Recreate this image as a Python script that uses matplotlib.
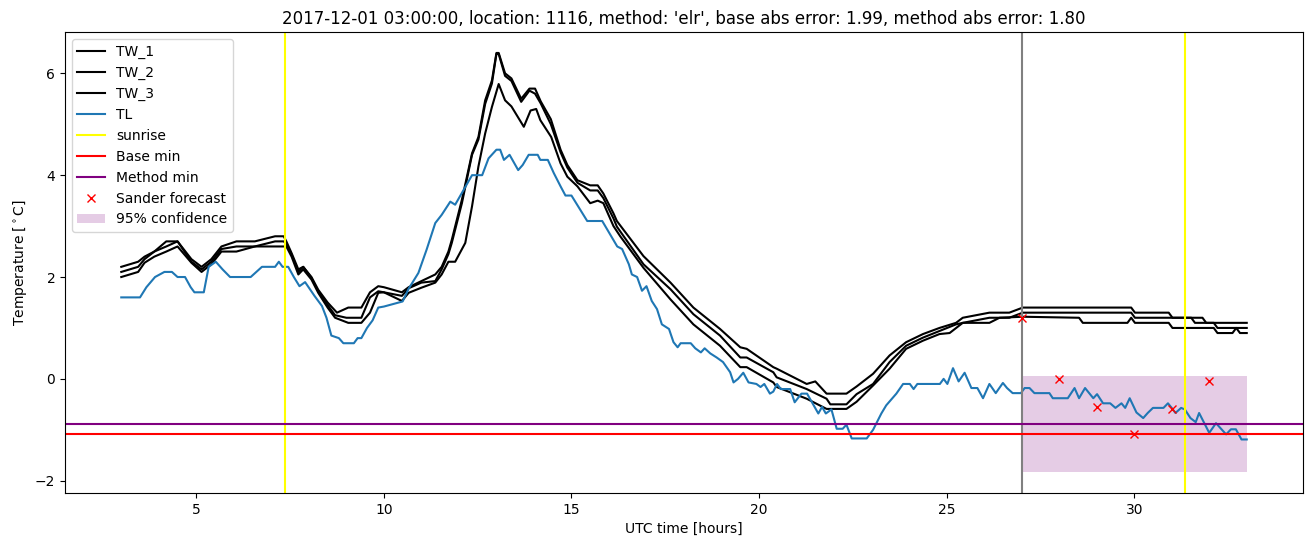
import numpy as np
import matplotlib
matplotlib.use("Agg")
from matplotlib import pyplot as plt

# (hour, temperature)
TW_1 = [(3.0, 2.2), (3.45, 2.3), (3.62, 2.4), (3.88, 2.5), (4.2, 2.7), (4.5, 2.7), (4.87, 2.35), (5.14, 2.2),
        (5.4, 2.35), (5.67, 2.6), (6.07, 2.7), (6.56, 2.7), (7.1, 2.8), (7.33, 2.8), (7.4, 2.7), (7.54, 2.47),
        (7.72, 2.15), (7.85, 2.2), (8.07, 2.0), (8.25, 1.75), (8.5, 1.5), (8.75, 1.3), (9.05, 1.4), (9.4, 1.4),
        (9.63, 1.7), (9.85, 1.82), (10.0, 1.8), (10.48, 1.7), (10.66, 1.8), (11.0, 1.92), (11.37, 2.05),
        (11.54, 2.2), (11.72, 2.5), (11.81, 2.73), (12.08, 3.52), (12.35, 4.43), (12.52, 4.75), (12.7, 5.47),
        (12.88, 5.86), (13.0, 6.4), (13.06, 6.4), (13.23, 6.0), (13.4, 5.9), (13.66, 5.5), (13.88, 5.7),
        (14.03, 5.7), (14.18, 5.45), (14.45, 5.1), (14.71, 4.5), (14.89, 4.2), (15.16, 3.9), (15.5, 3.8),
        (15.7, 3.8), (15.85, 3.64), (16.12, 3.25), (16.21, 3.1), (16.92, 2.41), (17.64, 1.89), (18.25, 1.4),
        (18.96, 0.98), (19.5, 0.62), (19.67, 0.59), (20.38, 0.23), (20.47, 0.2), (21.27, -0.1), (21.5, -0.05),
        (21.8, -0.29), (22.33, -0.29), (22.6, -0.15), (23.04, 0.1), (23.48, 0.46), (23.92, 0.72), (24.37, 0.88),
        (24.81, 1.0), (25.25, 1.1), (25.43, 1.2), (26.14, 1.3), (26.67, 1.3), (27.03, 1.4), (29.92, 1.4),
        (30.02, 1.3), (30.92, 1.3), (31.02, 1.2), (31.82, 1.2), (31.92, 1.1), (33.0, 1.1)]

TW_2 = [(3.0, 2.1), (3.45, 2.2), (3.62, 2.35), (3.88, 2.5), (4.2, 2.6), (4.5, 2.7), (4.87, 2.3), (5.14, 2.15),
        (5.4, 2.3), (5.67, 2.55), (6.07, 2.6), (6.56, 2.6), (7.1, 2.7), (7.33, 2.7), (7.4, 2.65), (7.54, 2.44),
        (7.72, 2.1), (7.85, 2.2), (8.07, 1.98), (8.25, 1.72), (8.5, 1.45), (8.7, 1.25), (9.0, 1.2), (9.4, 1.2),
        (9.63, 1.6), (9.85, 1.72), (10.0, 1.7), (10.48, 1.63), (10.66, 1.78), (11.0, 1.89), (11.37, 1.92),
        (11.54, 2.15), (11.72, 2.45), (11.81, 2.67), (12.08, 3.45), (12.35, 4.4), (12.52, 4.7), (12.7, 5.4),
        (12.88, 5.8), (13.0, 6.38), (13.06, 6.38), (13.23, 5.95), (13.4, 5.85), (13.66, 5.44), (13.88, 5.66),
        (14.03, 5.6), (14.18, 5.41), (14.45, 5.0), (14.71, 4.45), (14.89, 4.15), (15.16, 3.85), (15.5, 3.7),
        (15.7, 3.7), (15.85, 3.55), (16.12, 3.15), (16.21, 2.99), (16.92, 2.25), (17.64, 1.76), (18.25, 1.27),
        (18.96, 0.85), (19.5, 0.42), (19.67, 0.42), (20.38, 0.13), (20.47, 0.03), (21.27, -0.2), (21.8, -0.39),
        (21.9, -0.5), (22.33, -0.5), (22.6, -0.3), (23.04, -0.1), (23.48, 0.33), (23.92, 0.65), (24.37, 0.81),
        (24.81, 0.94), (25.25, 1.07), (25.43, 1.1), (26.14, 1.2), (26.67, 1.2), (27.03, 1.3), (29.92, 1.3),
        (30.02, 1.2), (31.52, 1.2), (31.62, 1.1), (32.12, 1.1), (32.22, 1.0), (33.0, 1.0)]

TW_3 = [(3.0, 2.0), (3.45, 2.1), (3.62, 2.28), (3.88, 2.4), (4.2, 2.5), (4.5, 2.6), (4.87, 2.28), (5.14, 2.1),
        (5.4, 2.25), (5.67, 2.5), (6.07, 2.5), (6.56, 2.6), (7.1, 2.6), (7.33, 2.6), (7.4, 2.6), (7.54, 2.4),
        (7.72, 2.05), (7.85, 2.15), (8.07, 1.95), (8.25, 1.69), (8.5, 1.4), (8.7, 1.2), (9.05, 1.1), (9.4, 1.1),
        (9.63, 1.3), (9.85, 1.69), (10.0, 1.7), (10.48, 1.53), (10.66, 1.69), (11.0, 1.79), (11.37, 1.89),
        (11.54, 2.05), (11.72, 2.3), (11.9, 2.3), (12.17, 2.67), (12.35, 3.39), (12.52, 4.17), (12.7, 4.82),
        (12.88, 5.34), (13.06, 5.79), (13.23, 5.47), (13.4, 5.35), (13.73, 4.95), (13.91, 5.27), (14.06, 5.3),
        (14.17, 5.08), (14.46, 4.75), (14.71, 4.23), (14.89, 3.97), (15.16, 3.78), (15.5, 3.45), (15.7, 3.5),
        (15.85, 3.45), (16.12, 3.0), (16.3, 2.8), (16.92, 2.18), (17.64, 1.56), (18.25, 1.07), (18.96, 0.65),
        (19.5, 0.23), (19.67, 0.23), (20.38, -0.07), (20.47, -0.16), (21.27, -0.39), (21.8, -0.59), (22.33, -0.59),
        (22.6, -0.45), (23.04, -0.13), (23.48, 0.2), (23.92, 0.59), (24.37, 0.75), (24.81, 0.88), (25.08, 0.9),
        (25.43, 1.1), (26.14, 1.1), (26.41, 1.2), (27.03, 1.22), (28.53, 1.2), (28.63, 1.1), (29.82, 1.1),
        (29.92, 1.2), (30.02, 1.1), (30.92, 1.1), (31.02, 1.0), (32.12, 1.0), (32.22, 0.9), (32.62, 0.9),
        (32.72, 1.0), (32.82, 0.9), (33.0, 0.9)]

TL = [(3.0, 1.6), (3.5, 1.6), (3.67, 1.8), (3.9, 2.0), (4.15, 2.1), (4.35, 2.1), (4.5, 2.0), (4.7, 2.0),
      (4.85, 1.8), (4.95, 1.7), (5.2, 1.7), (5.33, 2.2), (5.52, 2.3), (5.7, 2.15), (5.9, 2.0), (6.45, 2.0),
      (6.6, 2.1), (6.75, 2.2), (7.1, 2.2), (7.2, 2.3), (7.3, 2.2), (7.45, 2.2), (7.6, 2.0), (7.75, 1.82),
      (7.9, 1.9), (8.15, 1.63), (8.35, 1.43), (8.47, 1.2), (8.6, 0.85), (8.8, 0.8), (8.92, 0.7), (9.2, 0.7),
      (9.3, 0.8), (9.4, 0.8), (9.55, 1.0), (9.7, 1.15), (9.85, 1.4), (10.0, 1.42), (10.5, 1.52), (10.66, 1.77),
      (10.92, 2.08), (11.14, 2.54), (11.37, 3.06), (11.54, 3.22), (11.77, 3.48), (11.9, 3.42), (12.35, 4.0),
      (12.62, 4.0), (12.79, 4.33), (13.0, 4.5), (13.1, 4.5), (13.2, 4.3), (13.35, 4.4), (13.58, 4.1),
      (13.7, 4.2), (13.86, 4.4), (14.1, 4.4), (14.17, 4.3), (14.37, 4.3), (14.53, 4.04), (14.71, 3.78),
      (14.84, 3.6), (15.0, 3.6), (15.42, 3.1), (15.82, 3.1), (16.22, 2.6), (16.35, 2.55), (16.53, 2.25),
      (16.61, 2.05), (16.75, 2.0), (16.88, 1.73), (17.0, 1.82), (17.14, 1.53), (17.28, 1.37), (17.41, 1.07),
      (17.6, 0.98), (17.72, 0.72), (17.83, 0.62), (17.91, 0.7), (18.18, 0.7), (18.3, 0.6), (18.45, 0.52),
      (18.55, 0.6), (18.7, 0.5), (18.87, 0.42), (19.04, 0.33), (19.23, 0.13), (19.32, -0.07), (19.44, 0.0),
      (19.58, 0.12), (19.72, -0.07), (19.93, -0.1), (20.04, -0.16), (20.14, -0.1), (20.29, -0.29),
      (20.38, -0.25), (20.48, -0.1), (20.58, -0.2), (20.83, -0.2), (20.95, -0.46), (21.13, -0.29),
      (21.28, -0.29), (21.58, -0.68), (21.68, -0.55), (21.78, -0.68), (21.93, -0.6), (22.07, -0.98),
      (22.23, -0.98), (22.33, -0.9), (22.47, -1.17), (22.87, -1.17), (23.04, -1.0), (23.26, -0.68),
      (23.39, -0.52), (23.66, -0.29), (23.84, -0.1), (24.02, -0.1), (24.12, -0.2), (24.22, -0.1),
      (24.82, -0.1), (24.92, 0.0), (25.02, -0.1), (25.17, 0.21), (25.32, -0.05), (25.48, 0.12),
      (25.66, -0.18), (25.82, -0.18), (25.97, -0.38), (26.14, -0.1), (26.31, -0.28), (26.5, -0.08),
      (26.61, -0.18), (26.76, -0.28), (26.98, -0.28), (27.08, -0.18), (27.21, -0.18), (27.34, -0.28),
      (27.74, -0.28), (27.83, -0.38), (28.23, -0.38), (28.41, -0.18), (28.53, -0.38), (28.69, -0.18),
      (28.91, -0.38), (29.01, -0.3), (29.17, -0.48), (29.36, -0.48), (29.5, -0.57), (29.66, -0.48),
      (29.76, -0.57), (29.88, -0.38), (30.06, -0.66), (30.24, -0.77), (30.36, -0.67), (30.5, -0.57),
      (30.78, -0.57), (30.9, -0.48), (31.0, -0.57), (31.1, -0.67), (31.25, -0.57), (31.35, -0.6),
      (31.5, -0.77), (31.64, -0.85), (31.73, -0.67), (32.0, -1.06), (32.18, -0.87), (32.45, -1.09),
      (32.58, -0.99), (32.71, -0.99), (32.86, -1.19), (33.0, -1.19)]

sunrise = [7.36, 31.35]
forecast_start = 27
base_min = -1.08
method_min = -0.89

sander_hours = [27, 28, 29, 30, 31, 32]
sander_temp = [1.2, 0.0, -0.55, -1.08, -0.6, -0.05]

conf_hours = [27, 33]
conf_low = -1.83
conf_high = 0.05

title = "2017-12-01 03:00:00, location: 1116, method: 'elr', base abs error: 1.99, method abs error: 1.80"


def main():
    fig, ax = plt.subplots(figsize=(13.13, 5.47), dpi=100)

    for name, series in [('TW_1', TW_1), ('TW_2', TW_2), ('TW_3', TW_3)]:
        h, v = np.array(series).T
        ax.plot(h, v, color='black', label=name)
    h, v = np.array(TL).T
    ax.plot(h, v, color='tab:blue', label='TL')

    ax.axvline(sunrise[0], color='yellow', label='sunrise')
    ax.axvline(sunrise[1], color='yellow')
    ax.axvline(forecast_start, color='grey')
    ax.axhline(base_min, color='red', label='Base min')
    ax.axhline(method_min, color='purple', label='Method min')
    ax.plot(sander_hours, sander_temp, 'rx', label='Sander forecast')
    ax.fill_between(conf_hours, conf_low, conf_high, color='purple', alpha=0.2,
                    linewidth=0, label='95% confidence')

    ax.set_title(title)
    ax.set_xlabel('UTC time [hours]')
    ax.set_ylabel('Temperature [$^\\circ$C]')
    ax.legend(loc='upper left')

    fig.subplots_adjust(left=0.0495, right=0.9924, top=0.9415, bottom=0.0987)
    fig.savefig('out.png')


if __name__ == '__main__':
    main()
